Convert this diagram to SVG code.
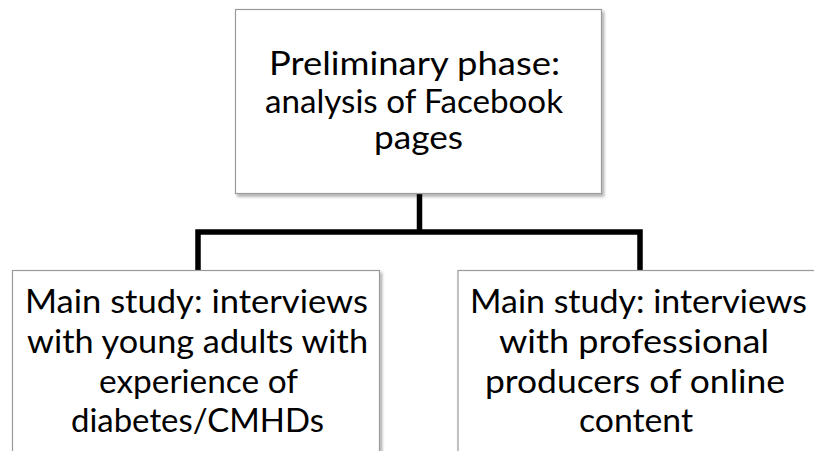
<svg xmlns="http://www.w3.org/2000/svg" width="814" height="451" viewBox="0 0 814 451">
<defs>
<filter id="sh" x="-5%" y="-5%" width="115%" height="115%">
<feDropShadow dx="2" dy="2.5" stdDeviation="1.5" flood-color="#000" flood-opacity="0.35"/>
</filter>
<style>
.box{fill:#fff;stroke:#9a9a9a;stroke-width:1.2;filter:url(#sh)}
.t{font-family:Lato,"Open Sans","Liberation Sans",sans-serif;font-size:33px;fill:#000}
.c{fill:none;stroke:#000;stroke-width:5.5;stroke-linejoin:miter}
</style>
</defs>
<rect width="814" height="451" fill="#fff"/>
<g id="connectors">
<path class="c" d="M419.5 194 V232"/>
<path class="c" d="M198 270 V232 H640 V270"/>
</g>
<g id="preliminary">
<rect class="box" x="235.5" y="9.5" width="366" height="184"/>
<text class="t" x="269" y="75" textLength="291" lengthAdjust="spacingAndGlyphs">Preliminary phase:</text>
<text class="t" x="265" y="112.5" textLength="298" lengthAdjust="spacingAndGlyphs">analysis of Facebook</text>
<text class="t" x="374" y="149" textLength="89" lengthAdjust="spacingAndGlyphs">pages</text>
</g>
<g id="young-adults">
<rect class="box" x="12.5" y="270.5" width="367" height="220"/>
<text class="t" x="25" y="313" textLength="343" lengthAdjust="spacingAndGlyphs">Main study: interviews</text>
<text class="t" x="27" y="353" textLength="341" lengthAdjust="spacingAndGlyphs">with young adults with</text>
<text class="t" x="99" y="393" textLength="199" lengthAdjust="spacingAndGlyphs">experience of</text>
<text class="t" x="71" y="432" textLength="253" lengthAdjust="spacingAndGlyphs">diabetes/CMHDs</text>
</g>
<g id="producers">
<rect class="box" x="458" y="270.5" width="370" height="220"/>
<text class="t" x="470" y="313" textLength="337" lengthAdjust="spacingAndGlyphs">Main study: interviews</text>
<text class="t" x="499" y="353" textLength="270" lengthAdjust="spacingAndGlyphs">with professional</text>
<text class="t" x="485" y="393" textLength="300" lengthAdjust="spacingAndGlyphs">producers of online</text>
<text class="t" x="579" y="432" textLength="114" lengthAdjust="spacingAndGlyphs">content</text>
</g>
</svg>
